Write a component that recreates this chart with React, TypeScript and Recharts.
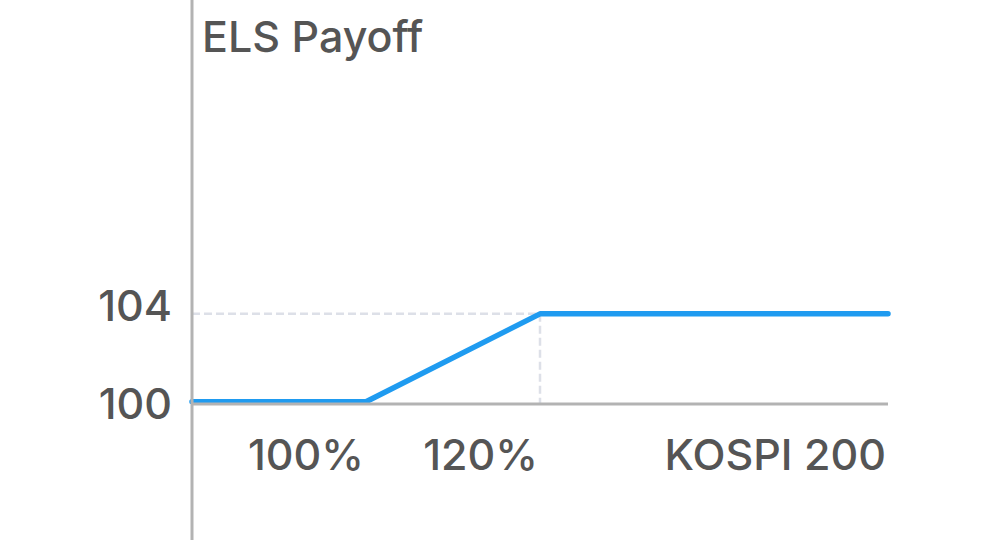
import { LineChart, Line, XAxis, YAxis, ReferenceLine } from 'recharts';

// payoff curve: KOSPI 200 level (%) -> payoff
const levels = [80, 100, 120, 160];
const payoffs = [100, 100, 104, 104];
const xTicks = [100, 120, 160];
const xTickLabels = ['100%', '120%', 'KOSPI 200'];
const yTicks = [100, 104];

const data = levels.map((x, i) => ({ x, y: payoffs[i] }));

const FONT = 'Inter, "Noto Sans", sans-serif';
const TEXT = '#555555';
const AXIS = '#b3b3b3';
const GRID = '#dde0e8';

const XTick = (props: any) => {
  const { x, y, payload } = props;
  const idx = xTicks.indexOf(payload.value);
  return (
    <text x={x - 2} y={y + 58} textAnchor="end" fill={TEXT} fontSize={43} fontWeight={500} fontFamily={FONT}>
      {xTickLabels[idx]}
    </text>
  );
};

const YTick = (props: any) => {
  const { y, payload } = props;
  const off = payload.value === 100 ? 17 : 7;
  return (
    <text x={172} y={y + off} textAnchor="end" fill={TEXT} fontSize={43} fontWeight={500} fontFamily={FONT}>
      {payload.value}
    </text>
  );
};

export default function App() {
  return (
    <div style={{ position: 'absolute', left: 0, top: 0, width: 984, height: 540, background: '#fff' }}>
      <div style={{ position: 'absolute', left: 202, top: 15, fontSize: 43, fontWeight: 500, lineHeight: 1, fontFamily: FONT, color: TEXT }}>
        ELS Payoff
      </div>
      <LineChart width={984} height={540} data={data} margin={{ top: 0, right: 96, bottom: 0, left: 0 }}>
        <XAxis
          dataKey="x"
          type="number"
          domain={[80, 160]}
          ticks={xTicks}
          height={136}
          tickLine={false}
          axisLine={{ stroke: AXIS, strokeWidth: 3 }}
          tick={<XTick />}
          interval={0}
        />
        <YAxis
          type="number"
          domain={[99.9, 118.27]}
          allowDataOverflow
          ticks={yTicks}
          width={192}
          tickLine={false}
          axisLine={{ stroke: AXIS, strokeWidth: 3 }}
          tick={<YTick />}
        />
        <ReferenceLine
          segment={[{ x: 80, y: 99.9 }, { x: 80, y: 93.6 }]}
          stroke={AXIS}
          strokeWidth={3}
          ifOverflow="visible"
        />
        <ReferenceLine
          segment={[{ x: 80, y: 104 }, { x: 120, y: 104 }]}
          stroke={GRID}
          strokeWidth={2.5}
          strokeDasharray="8 4"
        />
        <ReferenceLine
          segment={[{ x: 120, y: 104 }, { x: 120, y: 99.9 }]}
          stroke={GRID}
          strokeWidth={2.5}
          strokeDasharray="8 4"
        />
        <Line
          type="linear"
          dataKey="y"
          stroke="#1f9bf0"
          strokeWidth={5.5}
          strokeLinecap="round"
          strokeLinejoin="round"
          dot={false}
          activeDot={false}
          isAnimationActive={false}
        />
      </LineChart>
    </div>
  );
}
